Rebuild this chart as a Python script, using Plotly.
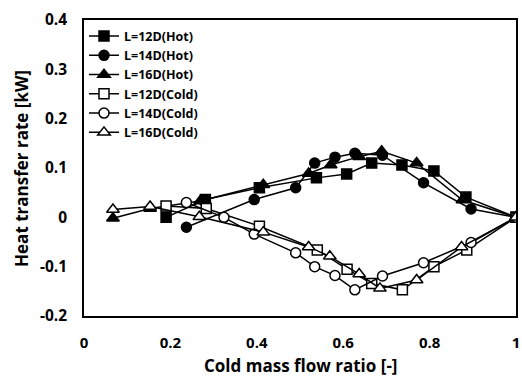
import plotly.graph_objects as go

# Data
x12_hot = [0.19, 0.281, 0.406, 0.538, 0.608, 0.666, 0.736, 0.81, 0.884, 1.0]
y12_hot = [0.0, 0.036, 0.06, 0.08, 0.088, 0.11, 0.106, 0.094, 0.041, 0.0]
x14_hot = [0.237, 0.394, 0.49, 0.534, 0.581, 0.627, 0.691, 0.786, 0.896, 1.0]
y14_hot = [-0.02, 0.036, 0.06, 0.11, 0.122, 0.13, 0.126, 0.07, 0.017, 0.0]
x16_hot = [0.067, 0.153, 0.269, 0.415, 0.52, 0.571, 0.637, 0.689, 0.77, 0.876, 1.0]
y16_hot = [-0.002, 0.018, 0.033, 0.066, 0.089, 0.106, 0.123, 0.134, 0.11, 0.035, 0.0]
x12_cold = [0.19, 0.283, 0.406, 0.54, 0.609, 0.666, 0.737, 0.81, 0.886, 1.0]
y12_cold = [0.023, 0.018, -0.018, -0.066, -0.105, -0.134, -0.147, -0.1, -0.066, 0.0]
x14_cold = [0.237, 0.324, 0.394, 0.49, 0.534, 0.581, 0.627, 0.691, 0.786, 0.896, 1.0]
y14_cold = [0.03, 0.0, -0.034, -0.072, -0.1, -0.118, -0.147, -0.119, -0.092, -0.051, 0.0]
x16_cold = [0.067, 0.153, 0.267, 0.415, 0.52, 0.569, 0.637, 0.685, 0.77, 0.874, 1.0]
y16_cold = [0.016, 0.022, 0.001, -0.03, -0.06, -0.079, -0.115, -0.144, -0.127, -0.06, 0.0]

x_title = "Cold mass flow ratio [-]"
y_title = "Heat transfer rate [kW]"
names = ["L=12D(Hot)", "L=14D(Hot)", "L=16D(Hot)", "L=12D(Cold)", "L=14D(Cold)", "L=16D(Cold)"]
xs = [x12_hot, x14_hot, x16_hot, x12_cold, x14_cold, x16_cold]
ys = [y12_hot, y14_hot, y16_hot, y12_cold, y14_cold, y16_cold]
symbols = ["square", "circle", "triangle-up", "square", "circle", "triangle-up"]
fills = ["black", "black", "black", "white", "white", "white"]
sizes = [10, 10, 11, 10, 10, 11]

font_family = "Open Sans"

fig = go.Figure()
for n, x, y, s, f, sz in zip(names, xs, ys, symbols, fills, sizes):
    fig.add_trace(go.Scatter(
        x=x, y=y, name=n, mode="lines+markers",
        line=dict(color="black", width=1.5),
        marker=dict(symbol=s, size=sz, color=f, line=dict(color="black", width=1.5)),
    ))

title_font = dict(size=17, family=font_family, color="black", weight="bold")

fig.update_layout(
    width=522, height=379,
    margin=dict(l=84, r=6, t=20, b=63),
    paper_bgcolor="white", plot_bgcolor="white",
    font=dict(family=font_family, color="black"),
    showlegend=True,
    legend=dict(x=0.0, y=0.995, xanchor="left", yanchor="top",
                bgcolor="rgba(0,0,0,0)",
                font=dict(size=12.5, family=font_family, color="black", weight="bold"),
                itemwidth=30, tracegroupgap=0),
    xaxis=dict(range=[0, 1], tickvals=[0, 0.2, 0.4, 0.6, 0.8, 1.0],
               ticktext=["0", "0.2", "0.4", "0.6", "0.8", "1"],
               showgrid=False, zeroline=False, showline=True, linecolor="black", linewidth=1.5,
               mirror=True, ticks="", ticklabelstandoff=12, automargin=False,
               tickfont=dict(size=15, family=font_family, weight="bold")),
    yaxis=dict(range=[-0.2, 0.4], tickvals=[-0.2, -0.1, 0, 0.1, 0.2, 0.3, 0.4],
               ticktext=["-0.2", "-0.1", "0", "0.1", "0.2", "0.3", "0.4"],
               showgrid=False, zeroline=False, showline=True, linecolor="black", linewidth=1.5,
               mirror=True, ticks="", ticklabelstandoff=12, automargin=False,
               tickfont=dict(size=15.5, family=font_family, weight="bold")),
    annotations=[
        dict(text=x_title, xref="paper", yref="paper", x=0.5, y=-0.21,
             xanchor="center", yanchor="bottom", showarrow=False, font=title_font,
             borderpad=0),
        dict(text=y_title, xref="paper", yref="paper", x=-0.146, y=0.5, textangle=-90,
             xanchor="center", yanchor="middle", showarrow=False, font=title_font),
    ],
)

fig.write_html("out.html")
